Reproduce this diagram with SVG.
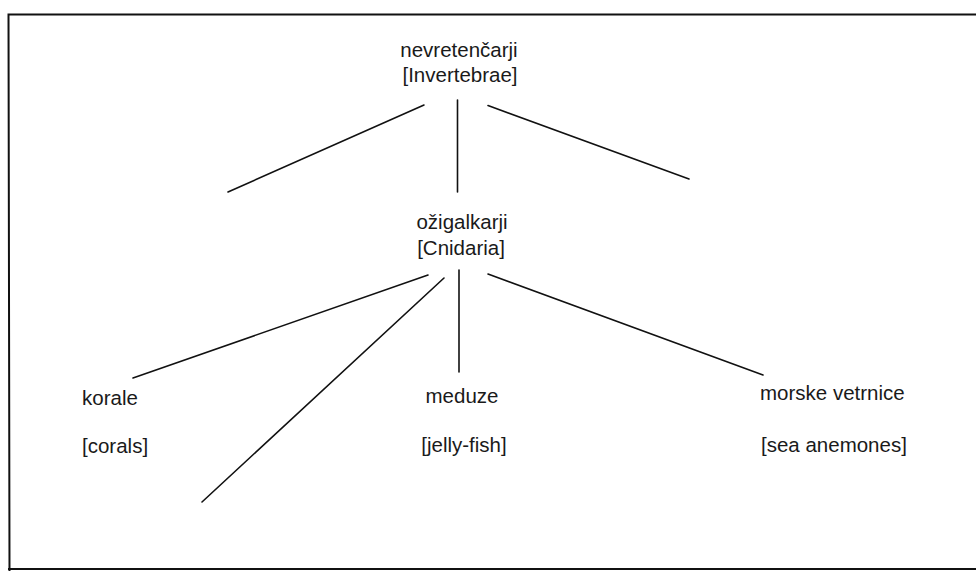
<svg xmlns="http://www.w3.org/2000/svg" width="976" height="571" viewBox="0 0 976 571">
<style>
  text { font-family: "Liberation Sans", Arial, sans-serif; font-size: 20.5px; fill: #1a1a1a; }
  .c { text-anchor: middle; }
  .ln { stroke: #111; stroke-width: 1.6; fill: none; stroke-linecap: round; }
  .frame { stroke: #111; stroke-width: 2; fill: none; }
</style>
<rect width="976" height="571" fill="#fff"/>
<path class="frame" d="M976,14.5 L8.5,14.5 L9.5,571 M8,569 L976,569"/>
<g id="connectors">
  <line class="ln" x1="457.5" y1="100" x2="457.5" y2="192"/>
  <line class="ln" x1="424" y1="105" x2="228" y2="192"/>
  <line class="ln" x1="488" y1="105.5" x2="689" y2="179"/>
  <line class="ln" x1="459" y1="270" x2="459" y2="372"/>
  <line class="ln" x1="428" y1="275" x2="133" y2="378"/>
  <line class="ln" x1="444" y1="278" x2="202" y2="502"/>
  <line class="ln" x1="488" y1="274" x2="763" y2="375"/>
</g>
<g id="invertebrae">
  <text class="c" x="459" y="57">nevretenčarji</text>
  <text class="c" x="460" y="82">[Invertebrae]</text>
</g>
<g id="cnidaria">
  <text class="c" x="462" y="229">ožigalkarji</text>
  <text class="c" x="461" y="255">[Cnidaria]</text>
</g>
<g id="korale">
  <text x="82" y="405">korale</text>
  <text x="82" y="453">[corals]</text>
</g>
<g id="meduze">
  <text class="c" x="462" y="403">meduze</text>
  <text class="c" x="464" y="452">[jelly-fish]</text>
</g>
<g id="vetrnice">
  <text x="760" y="400">morske vetrnice</text>
  <text x="761" y="452">[sea anemones]</text>
</g>
</svg>
